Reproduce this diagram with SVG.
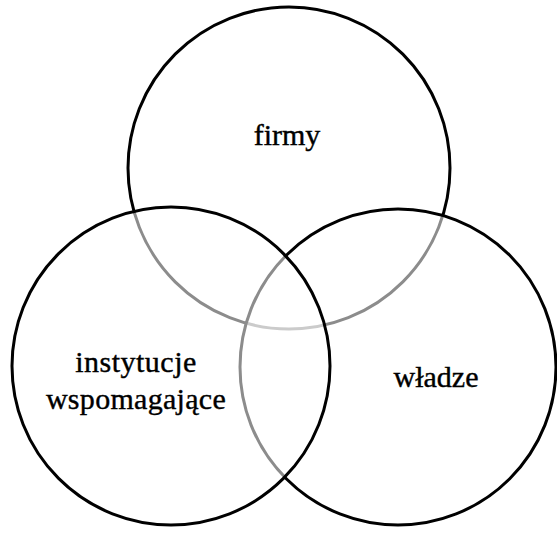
<svg xmlns="http://www.w3.org/2000/svg" width="557" height="533" viewBox="0 0 557 533">
<style>
.c{fill:#fff;fill-opacity:0.55;stroke:#000;stroke-width:3}
.t{font-family:"Liberation Serif","Times New Roman",serif;font-size:30px;fill:#000;stroke:#000;stroke-width:0.4;text-anchor:middle}
</style>
<rect width="557" height="533" fill="#fff"/>
<g id="firmy">
<circle class="c" cx="289" cy="168" r="161"/>
</g>
<g id="wladze">
<circle class="c" cx="398" cy="367" r="158"/>
</g>
<g id="instytucje">
<circle class="c" cx="171" cy="366" r="159"/>
</g>
<g id="labels">
<text class="t" x="287" y="145">firmy</text>
<text class="t" x="136" y="372" letter-spacing="0.5">instytucje</text>
<text class="t" x="136" y="409" letter-spacing="0.3">wspomagające</text>
<text class="t" x="436" y="387">władze</text>
</g>
</svg>
